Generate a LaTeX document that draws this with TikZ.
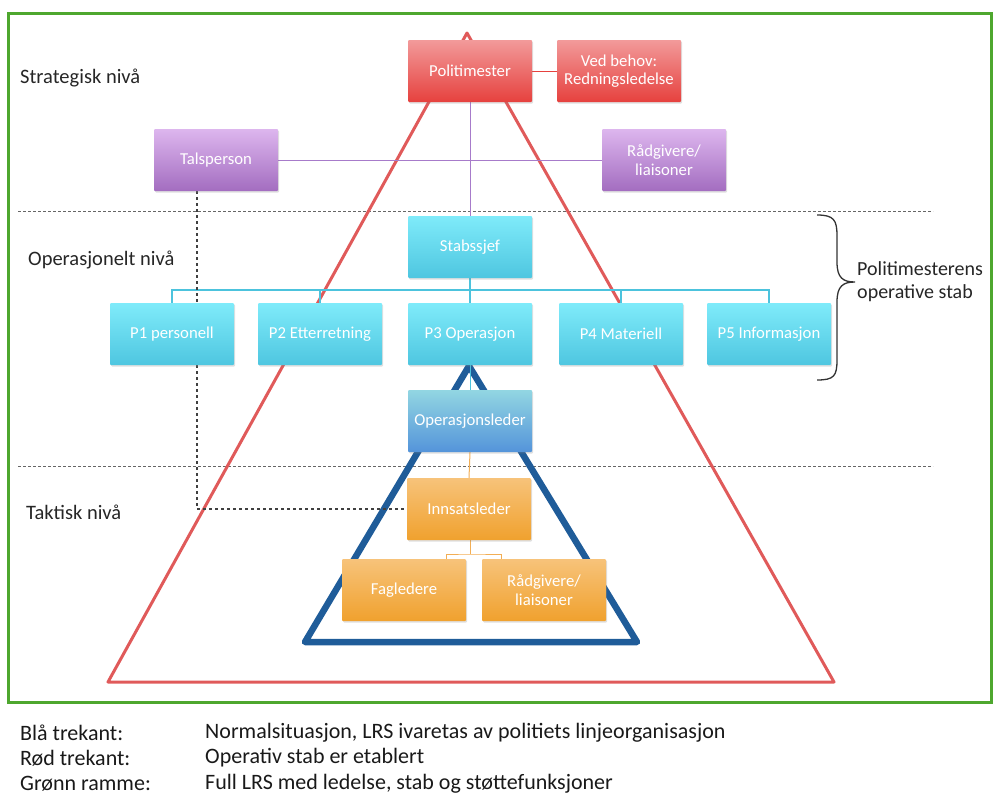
\documentclass[tikz,border=0pt]{standalone}
\usepackage{fontspec}
\setmainfont{Carlito}
\usetikzlibrary{shadows,backgrounds}
\definecolor{framegreen}{HTML}{4EA72E}
\definecolor{trired}{HTML}{E05A5A}
\definecolor{triblue}{HTML}{1F5C99}
\definecolor{redtop}{HTML}{F29A9A}
\definecolor{redbot}{HTML}{E6413E}
\definecolor{purtop}{HTML}{DDB6EE}
\definecolor{purbot}{HTML}{A36DC0}
\definecolor{cyantop}{HTML}{7FEBFA}
\definecolor{cyanbot}{HTML}{4EC6E0}
\definecolor{opltop}{HTML}{92D6E2}
\definecolor{oplbot}{HTML}{5494DA}
\definecolor{orgtop}{HTML}{F7C37A}
\definecolor{orgbot}{HTML}{F0A12E}
\definecolor{purline}{HTML}{A77BCA}
\definecolor{cyanline}{HTML}{4CC3DD}
\definecolor{orgline}{HTML}{F2AE55}
\tikzset{
  box/.style={minimum width=124pt, minimum height=62pt, inner sep=1pt, text=white,
    font=\fontsize{16.7}{18.5}\selectfont, align=center, rounded corners=1pt,
    drop shadow={opacity=0.25, shadow xshift=1.2pt, shadow yshift=-1.5pt}},
  redbox/.style={box, top color=redtop, bottom color=redbot},
  purbox/.style={box, top color=purtop, bottom color=purbot},
  cyanbox/.style={box, top color=cyantop, bottom color=cyanbot},
  oplbox/.style={box, top color=opltop, bottom color=oplbot},
  orgbox/.style={box, top color=orgtop, bottom color=orgbot},
  lvl/.style={font=\fontsize{20.5}{23}\selectfont, text=black!85, anchor=west, inner sep=0pt},
  legend/.style={font=\fontsize{22}{24}\selectfont, text=black!90, anchor=west, inner sep=0pt},
  levelline/.style={densely dashed, gray!80!black, line width=1pt},
  tsline/.style={dashed, black!75, line width=1.6pt},
  redline/.style={redbot, line width=1pt},
  purlink/.style={purline, line width=1pt},
  cyanlink/.style={cyanline, line width=1.2pt},
  orglink/.style={orgline, line width=1pt},
}
\begin{document}
\begin{tikzpicture}[x=1pt,y=-1pt]
\useasboundingbox (0,0) rectangle (993,798);
% level labels
\node[lvl] (strat) at (20,78) {Strategisk nivå};
\node[lvl] (oper) at (28,260) {Operasjonelt nivå};
\node[lvl] (takt) at (26,512) {Taktisk nivå};
% boxes
\node[redbox] (pol) at (470,71) {Politimester};
\node[redbox] (ved) at (619,71) {Ved behov:\\Redningsledelse};
\node[purbox] (tal) at (216,160) {Talsperson};
\node[purbox] (rad1) at (664,160) {Rådgivere/\\liaisoner};
\node[cyanbox] (stab) at (470,247) {Stabssjef};
\node[cyanbox] (p1) at (172,334) {P1 personell};
\node[cyanbox] (p2) at (320,334) {P2 Etterretning};
\node[cyanbox] (p3) at (470,334) {P3 Operasjon};
\node[cyanbox] (p4) at (621,334) {P4 Materiell};
\node[cyanbox] (p5) at (769,334) {P5 Informasjon};
\node[oplbox] (opl) at (470,421) {Operasjonsleder};
\node[orgbox] (inn) at (469,509) {Innsatsleder};
\node[orgbox] (fag) at (404,590) {Fagledere};
\node[orgbox] (rad2) at (544,590) {Rådgivere/\\liaisoner};
\coordinate (bus) at (470,290);
\coordinate (fork) at (470,554);
\begin{scope}[on background layer]
% green frame
\draw[framegreen, line width=3pt] (8,13) rectangle (991,702);
% level separators
\draw[levelline] (18,211) -- (933,211);
\draw[levelline] (18,466) -- (933,466);
% triangles
\draw[trired, line width=3pt, line join=round] (467,33) -- (108,682) -- (834,682) -- cycle;
\draw[triblue, line width=6.5pt, line join=round] (469,366) -- (305,642) -- (637,642) -- cycle;
% connectors
\draw[redline] (pol.east) -- (ved.west);
\draw[purlink] (pol.south) -- (stab.north);
\draw[purlink] (tal.east) -- (rad1.west);
\draw[cyanlink] (stab.south) -- (p3.north);
\draw[cyanlink] (p1.north) |- (bus) -| (p5.north);
\draw[cyanlink] (bus -| p2.north) -- (p2.north);
\draw[cyanlink] (bus -| p4.north) -- (p4.north);
\draw[cyanline, line width=1pt] (p3.south) -- (opl.north);
\draw[orglink] (opl.south) -- (inn.north);
\draw[orglink] (inn.south -| fork) -- (fork);
\draw[orglink] ([xshift=42pt]fag.north) |- (fork) -| ([xshift=-43pt]rad2.north);
\draw[tsline] ([xshift=-19pt]tal.south) |- (inn.west);
\end{scope}
% brace
\draw[black!80, line width=1.3pt] (817,215) .. controls (834,215) and (837,220) .. (837,236) -- (837,262) .. controls (837,278) and (843,282) .. (855,282) .. controls (843,282) and (837,286) .. (837,302) -- (837,360) .. controls (837,376) and (834,380) .. (817,380);
\node[font=\fontsize{20}{23}\selectfont, text=black!85, align=left, anchor=west, inner sep=0pt] (stabtxt) at (857,282) {Politimesterens\\operative stab};
% legend
\node[legend] (l1a) at (20,733) {Blå trekant:};
\node[legend] (l1b) at (205,733) {Normalsituasjon, LRS ivaretas av politiets linjeorganisasjon};
\node[legend] (l2a) at (20,758) {Rød trekant:};
\node[legend] (l2b) at (205,758) {Operativ stab er etablert};
\node[legend] (l3a) at (20,784) {Grønn ramme:};
\node[legend] (l3b) at (205,784) {Full LRS med ledelse, stab og støttefunksjoner};
\end{tikzpicture}
\end{document}
